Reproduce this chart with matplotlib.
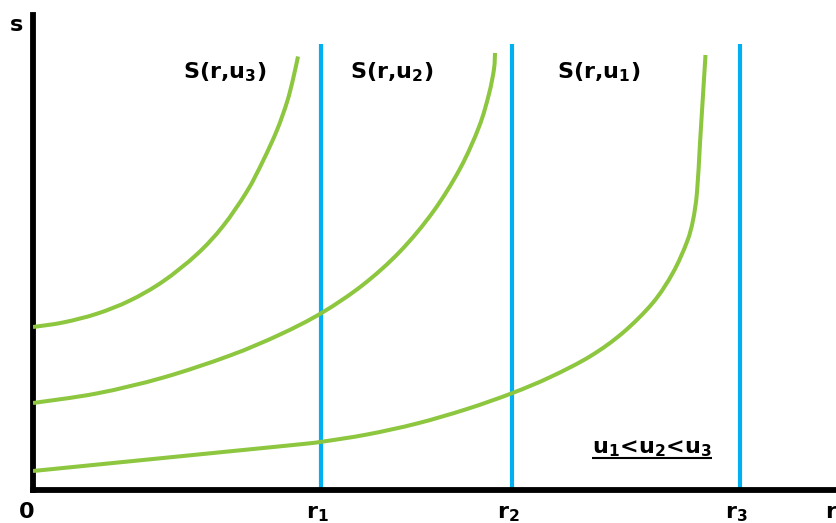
import matplotlib
matplotlib.use("Agg")
import matplotlib.pyplot as plt
import numpy as np
from matplotlib.path import Path
from matplotlib.patches import PathPatch

plt.rcParams['font.family'] = ['DejaVu Sans']
plt.rcParams['mathtext.fontset'] = 'dejavusans'

# Supply curves S(r, u) for three levels of u (x = r, y = s)
u3_r = [0, 30, 64, 97, 130, 164, 190, 214, 230, 244, 254, 260, 265]
u3_s = [163, 167.5, 176.3, 189.5, 208.6, 235.8, 263.9, 298.7, 329.1, 359.9,
        387.9, 410.7, 433.5]

u2_r = [0, 64, 130, 197, 247, 289, 330, 367, 400, 427, 446, 456, 461, 462]
u2_s = [87, 96.6, 112.4, 134.5, 155.5, 177.3, 205.2, 238.5, 278.1, 321.3,
        363.1, 396.1, 421.1, 437]

u1_r = [0, 97, 197, 267, 289, 334, 384, 434, 479, 517, 557, 590, 620, 640, 654,
        660, 664, 667, 670, 672.5]
u1_s = [19, 28.7, 38.7, 45.7, 48.3, 55.5, 66.5, 81, 96.8, 112.8, 133.6, 157.4,
        187.4, 217.4, 248.2, 269.8, 297.8, 347, 395, 435]

# Reference r levels (vertical lines)
r_levels = [288, 479, 707]
r_labels = ['r$\\mathbf{_1}$', 'r$\\mathbf{_2}$', 'r$\\mathbf{_3}$']
line_top = 446

curve_labels = ['S(r,u$\\mathbf{_3}$)', 'S(r,u$\\mathbf{_2}$)', 'S(r,u$\\mathbf{_1}$)']
curve_label_x = [150, 317, 524]
curve_label_y = 412

order_text = 'u$\\mathbf{_1}$<u$\\mathbf{_2}$<u$\\mathbf{_3}$'

green = '#8DC63F'
blue = '#00B0F0'


def smooth_path(xs, ys):
    """Catmull-Rom curve through the given points, as cubic Bezier segments."""
    p = np.column_stack([xs, ys]).astype(float)
    verts = [p[0]]
    codes = [Path.MOVETO]
    n = len(p)
    for i in range(n - 1):
        p0 = p[i - 1] if i > 0 else p[i]
        p1 = p[i]
        p2 = p[i + 1]
        p3 = p[i + 2] if i + 2 < n else p[i + 1]
        c1 = p1 + (p2 - p0) / 6.0
        c2 = p2 - (p3 - p1) / 6.0
        verts += [c1, c2, p2]
        codes += [Path.CURVE4] * 3
    return Path(verts, codes)


fig = plt.figure(figsize=(8.37, 5.23), dpi=100)
# one data unit = one pixel on both axes
ax = fig.add_axes([33 / 837, 33 / 523, 1 - 33 / 837, 475 / 523])
ax.set_xlim(0, 804)
ax.set_ylim(0, 475)

for r in r_levels:
    ax.plot([r, r], [0, line_top], color=blue, lw=3.0, solid_capstyle='butt', zorder=2)

for rs, ss in [(u3_r, u3_s), (u2_r, u2_s), (u1_r, u1_s)]:
    ax.add_patch(PathPatch(smooth_path(rs, ss), facecolor='none', edgecolor=green,
                           lw=2.9, capstyle='butt', joinstyle='round', zorder=3))

for lab, lx in zip(curve_labels, curve_label_x):
    ax.text(lx, curve_label_y, lab, fontsize=16, fontweight='bold',
            ha='left', va='baseline')

# Axes: only left and bottom, thick black
for side in ['top', 'right']:
    ax.spines[side].set_visible(False)
for side in ['left', 'bottom']:
    ax.spines[side].set_linewidth(4.2)
    ax.spines[side].set_color('black')
    ax.spines[side].set_capstyle('projecting')
ax.set_xticks([])
ax.set_yticks([])

# Axis labels and tick labels
ax.text(-16, 459, 's', fontsize=16, fontweight='bold', ha='center', va='baseline',
        clip_on=False)
ax.text(-6, -28, '0', fontsize=16, fontweight='bold', ha='center', va='baseline',
        clip_on=False)
for r, lab in zip(r_levels, r_labels):
    ax.text(r - 15, -28, lab, fontsize=16, fontweight='bold',
            ha='left', va='baseline', clip_on=False)
ax.text(803, -28, 'r', fontsize=16, fontweight='bold', ha='right', va='baseline',
        clip_on=False)

order_x, order_y = 559, 37
order = ax.text(order_x, order_y, order_text, fontsize=16, fontweight='bold',
                ha='left', va='baseline')

# underline under the ordering statement, spanning the text's width
fig.canvas.draw()
bb = order.get_window_extent(renderer=fig.canvas.get_renderer())
x0, _ = ax.transData.inverted().transform((bb.x0, bb.y0))
x1, _ = ax.transData.inverted().transform((bb.x1, bb.y0))
ax.plot([x0, x1], [order_y - 5, order_y - 5], color='black', lw=1.5,
        solid_capstyle='butt')

fig.savefig('out.png', dpi=100)
